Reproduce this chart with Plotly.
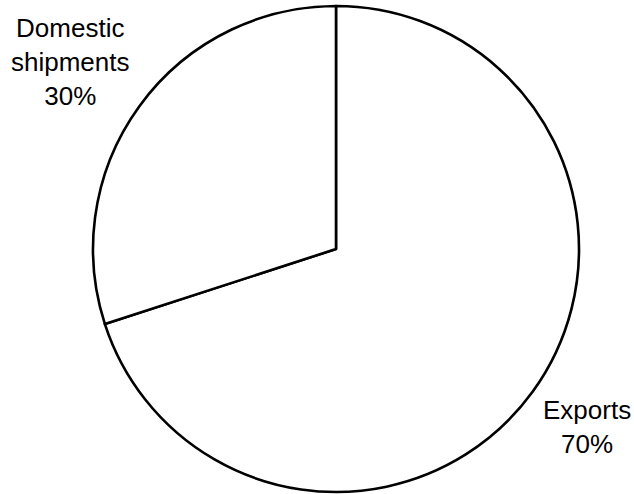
import plotly.graph_objects as go

# Share of shipments
categories = ["Exports", "Domestic shipments"]
values = [70, 30]

W, H = 634, 494
cx, cy, r = 336, 249, 243  # pie centre and radius in pixels (from top-left)

total = sum(values)
pct = [round(v * 100 / total) for v in values]

fig = go.Figure(
    go.Pie(
        labels=categories,
        values=values,
        sort=False,
        direction="clockwise",
        rotation=0,
        textinfo="none",
        hoverinfo="label+percent",
        marker=dict(colors=["white", "white"], line=dict(color="black", width=2.6)),
        domain=dict(
            x=[(cx - r) / W, (cx + r) / W],
            y=[(H - (cy + r)) / H, (H - (cy - r)) / H],
        ),
        showlegend=False,
    )
)

label_font = dict(family="Liberation Sans, Arial, sans-serif", size=26, color="black")

# label positions (pixels from top-left) for each category
label_pos = {"Domestic shipments": (70, 62), "Exports": (587, 427)}

for name, p in zip(categories, pct):
    x, y = label_pos[name]
    fig.add_annotation(
        x=x / W,
        y=1 - y / H,
        xref="paper",
        yref="paper",
        text="<br>".join(name.split(" ")) + f"<br>{p}%",
        showarrow=False,
        font=label_font,
        align="center",
        xanchor="center",
        yanchor="middle",
    )

fig.update_layout(
    width=W,
    height=H,
    margin=dict(l=0, r=0, t=0, b=0),
    paper_bgcolor="white",
    plot_bgcolor="white",
)

fig.write_html("out.html")
